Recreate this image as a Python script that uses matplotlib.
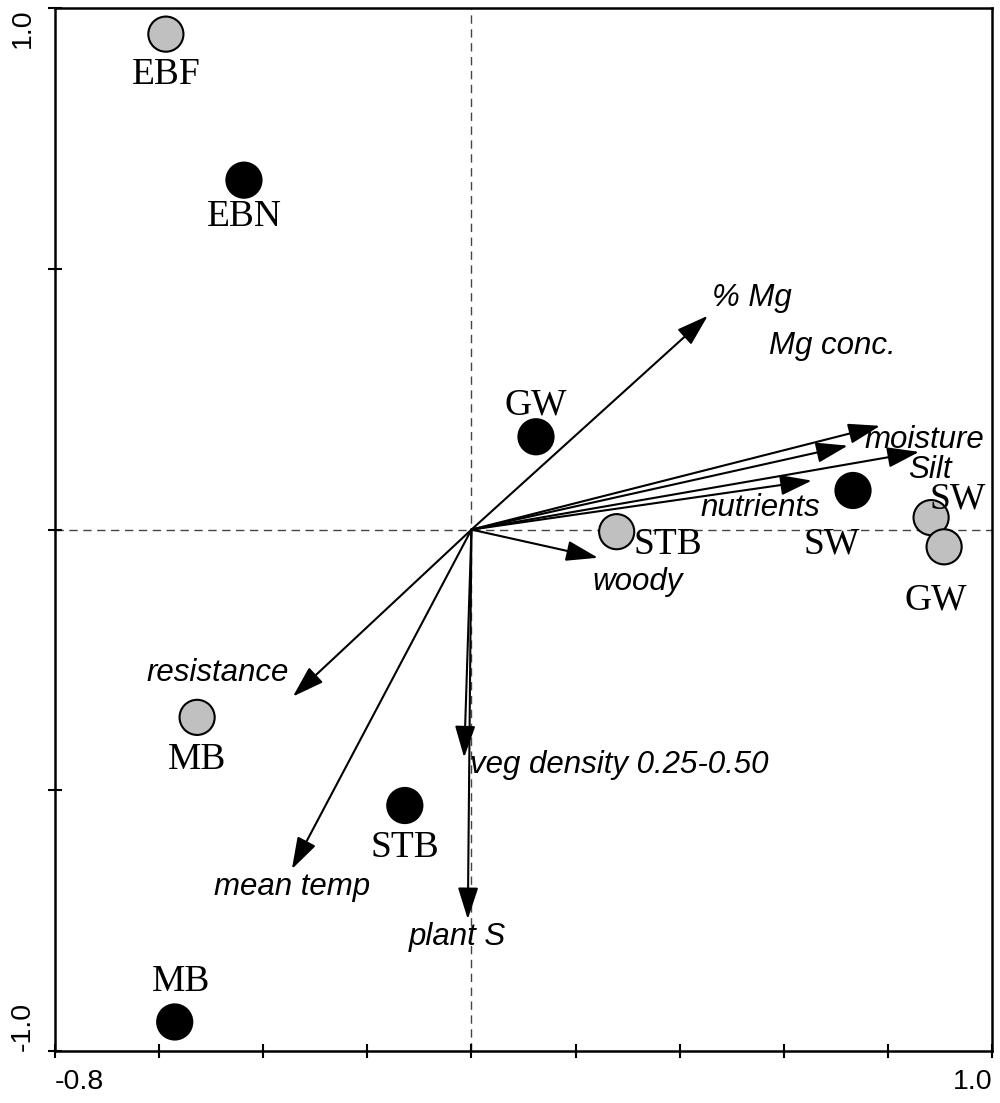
import matplotlib
matplotlib.use("Agg")
import matplotlib.pyplot as plt

# --- sample scores ---
sample_names = ["EBF", "EBN", "GW", "STB", "SW", "SW", "GW", "MB", "STB", "MB"]
sample_x = [-0.587, -0.437, 0.124, 0.279, 0.733, 0.883, 0.908, -0.527, -0.128, -0.570]
sample_y = [0.950, 0.670, 0.178, -0.004, 0.075, 0.023, -0.033, -0.360, -0.529, -0.944]
sample_group = ["grey", "black", "black", "grey", "black", "grey", "grey", "grey", "black", "black"]

# --- environmental vectors ---
env_names = ["% Mg", "Mg conc.", "moisture", "Silt", "nutrients", "woody",
             "resistance", "mean temp", "veg density 0.25-0.50", "plant S"]
env_x = [0.454, 0.785, 0.723, 0.860, 0.654, 0.243, -0.343, -0.345, -0.014, -0.007]
env_y = [0.410, 0.199, 0.161, 0.149, 0.094, -0.054, -0.320, -0.651, -0.437, -0.747]

# axis ticks
xticks = [-0.8, -0.6, -0.4, -0.2, 0.0, 0.2, 0.4, 0.6, 0.8, 1.0]
xticklabels = ["-0.8", "", "", "", "", "", "", "", "", "1.0"]
yticks = [-1.0, -0.5, 0.0, 0.5, 1.0]
yticklabels = ["-1.0", "", "", "", "1.0"]

# label placement (pixel offsets, style only)
sample_off = [(0, -41, 'center'), (0, -37, 'center'), (0, 32, 'center'), (17, -13, 'left'),
              (-21, -54, 'center'), (27, 18, 'center'), (-8, -53, 'center'),
              (0, -42, 'center'), (0, -42, 'center'), (6, 40, 'center')]
env_off = [(44, 18, 'center'), (-48, 80, 'center'), (77, 6, 'center'), (11, -18, 'center'),
           (-52, -27, 'center'), (40, -24, 'center'), (-75, 24, 'center'),
           (0, -18, 'center'), (6, -7, 'left'), (-10, -18, 'center')]

fig = plt.figure(figsize=(10, 11.03), dpi=100)
ax = fig.add_axes([0.055, 0.047, 0.937, 0.9457])
ax.set_xlim(-0.8, 1.0)
ax.set_ylim(-1.0, 1.0)

ax.axhline(0, color='#444444', lw=1, ls=(0, (6, 4)), zorder=0)
ax.axvline(0, color='#444444', lw=1, ls=(0, (6, 4)), zorder=0)

for nm, x, y, (dx, dy, ha) in zip(env_names, env_x, env_y, env_off):
    ax.annotate('', xy=(x, y), xytext=(0, 0),
                arrowprops=dict(arrowstyle='-|>,head_length=1.4,head_width=0.45',
                                mutation_scale=14, lw=1.5, color='black',
                                shrinkA=0, shrinkB=0), zorder=2)
    ax.annotate(nm, xy=(x, y), xytext=(dx, dy), textcoords='offset pixels',
                ha=ha, va='center', fontsize=22.5, style='italic',
                family='Liberation Sans', zorder=4)

colors = {"grey": "#c0c0c0", "black": "black"}
ax.scatter(sample_x, sample_y, s=640, c=[colors[g] for g in sample_group],
           edgecolors='black', linewidths=1.5, zorder=3)
for nm, x, y, (dx, dy, ha) in zip(sample_names, sample_x, sample_y, sample_off):
    ax.annotate(nm, xy=(x, y), xytext=(dx, dy), textcoords='offset pixels',
                ha=ha, va='center', fontsize=27, family='Liberation Serif', zorder=4)

ax.set_xticks(xticks)
ax.set_xticklabels(xticklabels, fontsize=20.5, family='Liberation Sans')
xl = ax.get_xticklabels()
xl[0].set_ha('left')
xl[-1].set_ha('right')
ax.set_yticks(yticks)
ax.set_yticklabels(yticklabels, fontsize=20.5, family='Liberation Sans', rotation=90)
yl = ax.get_yticklabels()
yl[0].set_va('bottom')
yl[-1].set_va('top')
ax.tick_params(direction='inout', length=10, width=1.5)
ax.tick_params(axis='x', pad=8)
ax.tick_params(axis='y', pad=9)
for s in ax.spines.values():
    s.set_linewidth(1.8)

fig.savefig("out.png", dpi=100)
